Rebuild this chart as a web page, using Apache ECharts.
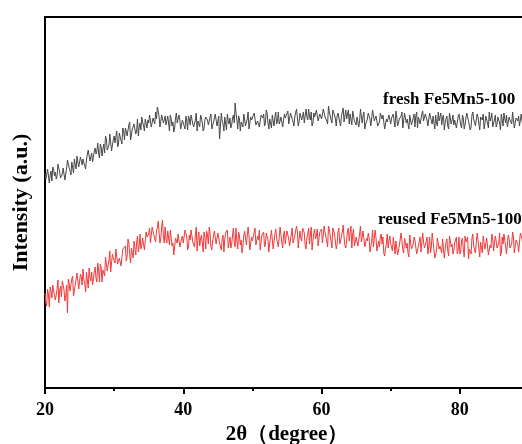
<!DOCTYPE html>
<html>
<head>
<meta charset="utf-8">
<script src="https://cdn.jsdelivr.net/npm/echarts@6/dist/echarts.min.js"></script>
<style>
html,body{margin:0;padding:0;background:#fff;}
#chart{width:522px;height:444px;}
</style>
</head>
<body>
<div id="chart"></div>
<script>
// 2θ sampling grid (degrees): main points at 20, 20.25, ... 90; mid points at 20.125, 20.375, ... 89.875
const thetaStart = 20;
const thetaStep = 0.25;

// intensity (a.u.) — main points
const freshValues = [
215, 208, 219, 213, 207, 218, 216, 212, 223, 210, 214, 222, 214, 228, 220, 213, 225, 229, 219, 226,
222, 233, 229, 222, 228, 238, 227, 235, 224, 240, 237, 235, 244, 232, 244, 252, 238, 243, 252, 243,
252, 246, 241, 255, 253, 260, 248, 257, 253, 266, 253, 259, 266, 257, 252, 265, 271, 262, 269, 260,
265, 273, 263, 271, 276, 281, 271, 263, 272, 266, 263, 272, 257, 269, 266, 260, 275, 264, 268, 261,
270, 259, 267, 272, 263, 274, 261, 268, 257, 269, 273, 265, 260, 271, 268, 262, 274, 259, 266, 272,
260, 249, 275, 264, 271, 258, 267, 270, 263, 273, 285, 268, 272, 257, 266, 274, 262, 269, 259, 271,
270, 275, 263, 267, 261, 273, 270, 262, 278, 265, 269, 260, 275, 271, 264, 276, 267, 273, 263, 270,
270, 264, 275, 273, 262, 270, 279, 266, 276, 269, 265, 279, 268, 272, 276, 265, 271, 278, 267, 274,
269, 279, 271, 267, 282, 276, 265, 277, 269, 272, 276, 262, 274, 266, 278, 269, 264, 272, 277, 267,
263, 273, 267, 277, 272, 259, 265, 275, 269, 264, 277, 265, 270, 262, 275, 269, 272, 260, 266, 273,
264, 271, 266, 277, 262, 269, 272, 260, 275, 265, 268, 273, 263, 270, 261, 276, 271, 264, 274, 267,
274, 268, 261, 276, 264, 270, 273, 262, 267, 275, 270, 258, 269, 262, 275, 264, 273, 268, 260, 271,
272, 260, 270, 263, 275, 267, 258, 273, 269, 262, 274, 264, 271, 268, 259, 272, 265, 276, 270, 261,
268, 261, 271, 265, 274, 262, 269, 273, 259, 268, 264, 277, 261, 269, 272, 260, 267, 263, 275, 270, 265
];
// mid points (between main points)
const freshMidValues = [
209, 219, 205, 217, 221, 212, 209, 224, 216, 211, 220, 208, 220, 226, 217, 226, 215, 223, 232, 221,
231, 223, 228, 219, 234, 238, 229, 226, 237, 234, 245, 230, 241, 239, 235, 249, 239, 254, 237, 248,
245, 257, 244, 251, 244, 257, 260, 252, 263, 248, 259, 264, 254, 269, 261, 258, 266, 257, 271, 268,
273, 261, 270, 264, 269, 277, 261, 273, 265, 272, 261, 265, 273, 262, 256, 270, 265, 273, 259, 268,
262, 272, 258, 269, 273, 264, 260, 275, 267, 261, 270, 257, 268, 273, 263, 271, 259, 266, 274, 262,
272, 263, 267, 257, 271, 274, 264, 260, 270, 265, 275, 259, 269, 266, 261, 273, 262, 276, 258, 268,
266, 277, 263, 268, 260, 272, 274, 265, 275, 259, 269, 273, 262, 276, 267, 264, 271, 261, 274, 270,
277, 264, 273, 266, 271, 279, 262, 275, 268, 276, 266, 271, 279, 268, 262, 275, 270, 278, 265, 274,
267, 279, 271, 264, 276, 268, 278, 273, 262, 275, 266, 272, 280, 265, 269, 278, 274, 263, 277, 267,
271, 261, 279, 265, 276, 264, 269, 272, 262, 278, 267, 272, 262, 266, 276, 273, 259, 269, 265, 274,
270, 274, 261, 271, 264, 267, 276, 262, 273, 269, 259, 275, 265, 274, 272, 260, 268, 263, 277, 266,
271, 262, 275, 267, 272, 259, 265, 276, 268, 263, 273, 265, 272, 259, 276, 268, 263, 270, 261, 274,
263, 273, 259, 270, 274, 265, 261, 276, 268, 262, 271, 258, 269, 274, 264, 272, 260, 267, 275, 263,
273, 264, 268, 258, 272, 275, 265, 261, 271, 266, 276, 260, 270, 267, 262, 274, 263, 277, 259, 269
];

const reusedValues = [
95, 82, 93, 101, 90, 105, 88, 99, 85, 102, 107, 98, 92, 75, 104, 97, 112, 94, 104, 113,
98, 111, 119, 105, 116, 100, 111, 116, 108, 121, 106, 118, 124, 106, 119, 131, 117, 128, 116, 134,
132, 139, 124, 130, 122, 139, 137, 127, 149, 133, 140, 130, 149, 145, 136, 154, 143, 152, 140, 151,
154, 145, 161, 153, 146, 160, 156, 150, 168, 145, 149, 157, 143, 158, 145, 135, 150, 154, 141, 149,
145, 158, 152, 141, 148, 159, 144, 153, 137, 156, 149, 145, 156, 139, 153, 161, 141, 147, 157, 144,
155, 145, 138, 153, 149, 157, 140, 151, 144, 160, 141, 148, 156, 143, 135, 152, 158, 145, 153, 140,
147, 156, 143, 152, 158, 139, 151, 141, 155, 148, 145, 158, 139, 154, 150, 141, 161, 146, 153, 144,
157, 149, 140, 160, 145, 153, 157, 142, 150, 160, 155, 139, 154, 144, 161, 147, 159, 152, 142, 156,
159, 143, 156, 147, 162, 152, 140, 159, 154, 144, 160, 147, 156, 151, 140, 157, 147, 162, 154, 142,
151, 142, 154, 146, 157, 141, 150, 155, 136, 147, 141, 158, 137, 147, 151, 144, 135, 139, 154, 148,
144, 137, 151, 147, 133, 143, 155, 138, 150, 140, 135, 153, 139, 144, 148, 134, 142, 151, 136, 146,
138, 151, 141, 135, 155, 147, 133, 150, 139, 143, 149, 130, 146, 137, 152, 141, 134, 145, 151, 138,
134, 147, 139, 152, 146, 129, 137, 150, 142, 135, 155, 139, 146, 135, 152, 144, 148, 133, 140, 150,
138, 147, 140, 155, 135, 144, 148, 134, 153, 140, 144, 151, 137, 147, 136, 155, 149, 140, 153, 144, 148
];
const reusedMidValues = [
85, 99, 81, 97, 103, 92, 87, 108, 98, 91, 103, 87, 103, 109, 97, 109, 92, 103, 115, 99,
114, 103, 108, 96, 116, 120, 107, 103, 117, 110, 125, 106, 120, 118, 112, 130, 117, 137, 115, 130,
125, 141, 122, 130, 121, 137, 142, 131, 145, 125, 141, 147, 133, 152, 142, 139, 150, 138, 156, 153,
160, 144, 157, 149, 157, 167, 145, 161, 151, 161, 145, 150, 158, 142, 133, 150, 145, 155, 139, 152,
144, 157, 138, 153, 158, 146, 141, 161, 150, 142, 153, 136, 151, 157, 144, 155, 138, 148, 159, 142,
156, 144, 149, 136, 155, 158, 145, 140, 153, 146, 160, 139, 152, 148, 141, 157, 143, 161, 138, 151,
145, 160, 141, 148, 138, 153, 156, 144, 157, 136, 151, 156, 141, 159, 148, 143, 153, 140, 157, 152,
159, 142, 154, 145, 152, 162, 140, 157, 147, 158, 143, 150, 160, 146, 138, 155, 149, 159, 142, 154,
145, 162, 151, 141, 158, 147, 160, 154, 139, 156, 144, 152, 163, 143, 148, 160, 155, 140, 159, 146,
153, 140, 162, 144, 157, 141, 147, 151, 137, 158, 143, 150, 137, 141, 154, 151, 132, 145, 140, 152,
146, 151, 134, 147, 137, 142, 153, 135, 150, 145, 131, 152, 139, 151, 148, 133, 143, 136, 155, 140,
146, 134, 151, 141, 147, 130, 138, 152, 142, 135, 150, 139, 149, 132, 154, 144, 137, 146, 134, 151,
137, 150, 131, 146, 151, 139, 134, 154, 143, 135, 148, 131, 146, 152, 139, 150, 133, 143, 154, 137,
152, 140, 145, 132, 151, 154, 141, 136, 149, 142, 156, 135, 148, 144, 137, 153, 139, 157, 134, 147
];

const seriesNames = ['fresh Fe5Mn5-100', 'reused Fe5Mn5-100'];
const xTickLabels = ['20', '40', '60', '80'];

function pairs(vals, mids) {
  const out = [];
  for (let i = 0; i < vals.length; i++) {
    out.push([thetaStart + i * thetaStep, vals[i]]);
    if (i < mids.length) out.push([thetaStart + (i + 0.5) * thetaStep, mids[i]]);
  }
  return out;
}

const serif = '"Liberation Serif", "Times New Roman", serif';
const chart = echarts.init(document.getElementById('chart'), null, {renderer: 'canvas'});
chart.setOption({
  animation: false,
  grid: {left: 45, right: -7, top: 17, bottom: 56, outerBoundsMode: 'none', containLabel: false,
         show: true, borderColor: '#000', borderWidth: 2, backgroundColor: 'transparent'},
  xAxis: {
    type: 'value', min: 20, max: 90, interval: 20,
    name: '2θ（degree）', nameLocation: 'middle', nameGap: 34,
    nameTextStyle: {fontFamily: serif, fontWeight: 'bold', fontSize: 21, color: '#000'},
    axisLine: {show: true, lineStyle: {color: '#000', width: 2}},
    axisTick: {show: true, length: 6, lineStyle: {color: '#000', width: 2}},
    minorTick: {show: true, splitNumber: 2, length: 3, lineStyle: {color: '#000', width: 2}},
    splitLine: {show: false},
    axisLabel: {
      fontFamily: serif, fontWeight: 'bold', fontSize: 18, color: '#000', margin: 13,
      showMaxLabel: false,
      formatter: function (v) { const s = String(v); return xTickLabels.indexOf(s) >= 0 ? s : ''; }
    }
  },
  yAxis: {
    type: 'value', min: 0, max: 371,
    name: 'Intensity (a.u.)', nameLocation: 'middle', nameGap: 13,
    nameTextStyle: {fontFamily: serif, fontWeight: 'bold', fontSize: 22, color: '#000'},
    axisLine: {show: true, lineStyle: {color: '#000', width: 2}},
    axisTick: {show: false}, axisLabel: {show: false}, splitLine: {show: false}
  },
  series: [
    {name: seriesNames[0], type: 'line', data: pairs(freshValues, freshMidValues), showSymbol: false, symbol: 'none',
     lineStyle: {color: '#474747', width: 1}, silent: true},
    {name: seriesNames[1], type: 'line', data: pairs(reusedValues, reusedMidValues), showSymbol: false, symbol: 'none',
     lineStyle: {color: '#f03a3a', width: 1}, silent: true}
  ],
  graphic: [
    {type: 'text', x: 383, y: 100, silent: true,
     style: {text: seriesNames[0], font: 'bold 17px ' + serif, fill: '#000', verticalAlign: 'middle', align: 'left'}},
    {type: 'text', x: 378, y: 220, silent: true,
     style: {text: seriesNames[1], font: 'bold 17px ' + serif, fill: '#000', verticalAlign: 'middle', align: 'left'}}
  ]
});
</script>
</body>
</html>
